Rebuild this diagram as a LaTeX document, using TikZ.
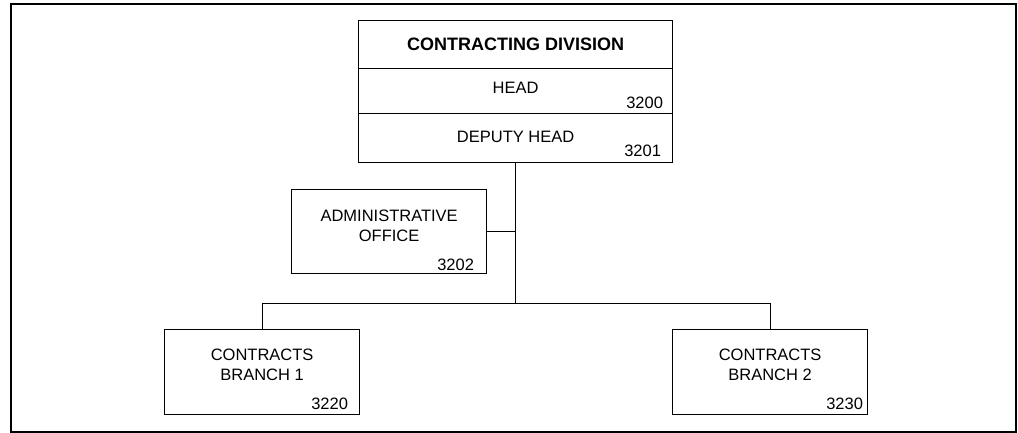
\documentclass[tikz,border=0pt]{standalone}
\usepackage{fontspec}
\setmainfont{Liberation Sans}
\usepackage{tikz}
\usetikzlibrary{calc,positioning}
\tikzset{
         unitbox/.style={draw,line width=1.2pt,inner sep=0,anchor=north west},
         unitname/.style={font=\fontsize{16.5}{20}\selectfont,align=center,inner sep=0},
         unitcode/.style={font=\fontsize{16.5}{20}\selectfont,anchor=base east,inner sep=0},
         link/.style={line width=1.2pt}
        }

\begin{document}
\begin{tikzpicture}[x=1pt,y=-1pt]
\useasboundingbox(0,0)rectangle(1018,433);
\draw[line width=2pt](11,4)rectangle(1016,432);
%division
\node[unitbox,minimum width=314pt,minimum height=48pt](division)at(358,20){};
\node[unitbox,minimum width=314pt,minimum height=45pt](head)at(358,68){};
\node[unitbox,minimum width=314pt,minimum height=49pt](deputy)at(358,113){};
\node[unitbox,minimum width=195pt,minimum height=84pt](admin)at(291,189){};
\node[unitbox,minimum width=195pt,minimum height=85pt](branchA)at(164,329){};
\node[unitbox,minimum width=195pt,minimum height=85pt](branchB)at(672,329){};
%names
\node[unitname,font=\fontsize{18}{20}\selectfont\bfseries](divisionname)at(division.center){CONTRACTING DIVISION};
\node[unitname](headname)at([yshift=3.5pt]head.center){HEAD};
\node[unitname](deputyname)at([yshift=1.5pt]deputy.center){DEPUTY HEAD};
\node[unitname](adminname)at([yshift=6pt]admin.center){ADMINISTRATIVE\\OFFICE};
\node[unitname](branchAname)at([yshift=7.5pt]branchA.center){CONTRACTS\\BRANCH 1};
\node[unitname](branchBname)at([yshift=7.5pt]branchB.center){CONTRACTS\\BRANCH 2};
%codes
\node[unitcode](headcode)at([xshift=-10pt,yshift=5.5pt]head.south east){3200};
\node[unitcode](deputycode)at([xshift=-12pt,yshift=7pt]deputy.south east){3201};
\node[unitcode](admincode)at([xshift=-13pt,yshift=4pt]admin.south east){3202};
\node[unitcode](branchAcode)at([xshift=-12pt,yshift=6pt]branchA.south east){3220};
\node[unitcode](branchBcode)at([xshift=-5pt,yshift=6pt]branchB.south east){3230};
%lines
\coordinate(bus)at($(deputy.south)+(0,140)$);
\draw[link](deputy.south)--(bus);
\draw[link](admin.east)--(admin.east-|bus);
\draw[link](branchA.north)|-(bus)-|(branchB.north);
\end{tikzpicture}
\end{document}
